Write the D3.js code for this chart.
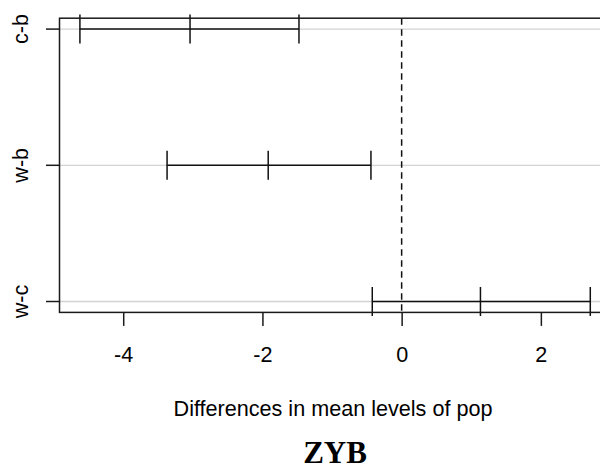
<!DOCTYPE html>
<html>
<head>
<meta charset="utf-8">
<script src="https://cdn.jsdelivr.net/npm/d3@7"></script>
<style>
  html, body { margin: 0; padding: 0; background: #fff; }
  svg { display: block; }
</style>
</head>
<body>
<svg id="chart" width="600" height="472"></svg>
<script>
// Tukey HSD family-wise confidence intervals for differences in mean levels of pop
const comparisons = ["c-b", "w-b", "w-c"];
const diffs = [-3.04, -1.917, 1.132];
const lowers = [-4.622, -3.37, -0.422];
const uppers = [-1.475, -0.441, 2.71];
const xTicks = [-4, -2, 0, 2];
const xLabel = "Differences in mean levels of pop";
const title = "ZYB";

const svg = d3.select("#chart");
const plotLeft = 59.5, plotRight = 610.7, plotTop = 18.2, plotBottom = 312.4;

// x domain: interval range padded by 4% each side
const lo = d3.min(lowers), hi = d3.max(uppers);
const pad = (hi - lo) * 0.04;
const x = d3.scaleLinear().domain([lo - pad, hi + pad]).range([plotLeft, plotRight]);

// y: first comparison at top (position n), last at bottom (position 1)
const n = comparisons.length;
const y = d3.scaleLinear().domain([1 - 0.04 * (n - 1), n + 0.04 * (n - 1)]).range([plotBottom, plotTop]);
const yPos = (i) => y(n - i);

const font = "'Liberation Sans', Arial, sans-serif";
const fontSize = 21.6;

// light grid lines at each comparison
svg.append("g").selectAll("line").data(comparisons).join("line")
  .attr("x1", plotLeft).attr("x2", plotRight)
  .attr("y1", (d, i) => yPos(i)).attr("y2", (d, i) => yPos(i))
  .attr("stroke", "#d3d3d3").attr("stroke-width", 1.3);

// reference line at zero difference
svg.append("line")
  .attr("x1", x(0)).attr("x2", x(0))
  .attr("y1", plotTop).attr("y2", plotBottom)
  .attr("stroke", "#111").attr("stroke-width", 1.5)
  .attr("stroke-dasharray", "6.5,4.5");

// intervals: horizontal segment with end and centre ticks
const tickHalf = 14.5;
const iv = svg.append("g").attr("stroke", "#111").attr("stroke-width", 1.5);
comparisons.forEach((c, i) => {
  const yy = yPos(i);
  iv.append("line").attr("x1", x(lowers[i])).attr("x2", x(uppers[i])).attr("y1", yy).attr("y2", yy);
  [lowers[i], diffs[i], uppers[i]].forEach(v => {
    iv.append("line").attr("x1", x(v)).attr("x2", x(v)).attr("y1", yy - tickHalf).attr("y2", yy + tickHalf);
  });
});

// plot frame
svg.append("rect")
  .attr("x", plotLeft).attr("y", plotTop)
  .attr("width", plotRight - plotLeft).attr("height", plotBottom - plotTop)
  .attr("fill", "none").attr("stroke", "#1a1a1a").attr("stroke-width", 1.5);

// x axis
const xAxis = svg.append("g")
  .attr("transform", `translate(0,${plotBottom})`)
  .call(d3.axisBottom(x).tickValues(xTicks).tickSize(13.5).tickPadding(21).tickFormat(d3.format("d")));
xAxis.select(".domain").remove();
xAxis.selectAll(".tick line").attr("stroke", "#1a1a1a").attr("stroke-width", 1.5);
xAxis.selectAll(".tick text")
  .attr("font-family", font).attr("font-size", fontSize).attr("fill", "#000")
  .text(d => d < 0 ? "-" + Math.abs(d) : d);

// y axis with rotated category labels
const yAxis = svg.append("g").attr("transform", `translate(${plotLeft},0)`);
comparisons.forEach((c, i) => {
  const yy = yPos(i);
  yAxis.append("line").attr("x1", -13.5).attr("x2", 0).attr("y1", yy).attr("y2", yy)
    .attr("stroke", "#1a1a1a").attr("stroke-width", 1.5);
  yAxis.append("text")
    .attr("transform", `translate(${28 - plotLeft},${yy}) rotate(-90)`)
    .attr("text-anchor", "middle")
    .attr("font-family", font).attr("font-size", fontSize).attr("fill", "#000")
    .text(c);
});

// axis title
svg.append("text")
  .attr("x", 333).attr("y", 416)
  .attr("text-anchor", "middle")
  .attr("font-family", font).attr("font-size", fontSize).attr("fill", "#000")
  .text(xLabel);

// caption
svg.append("text")
  .attr("x", 335).attr("y", 463)
  .attr("text-anchor", "middle")
  .attr("font-family", "'Liberation Serif', 'Times New Roman', serif")
  .attr("font-weight", "bold").attr("font-size", 31).attr("fill", "#000")
  .text(title);
</script>
</body>
</html>
